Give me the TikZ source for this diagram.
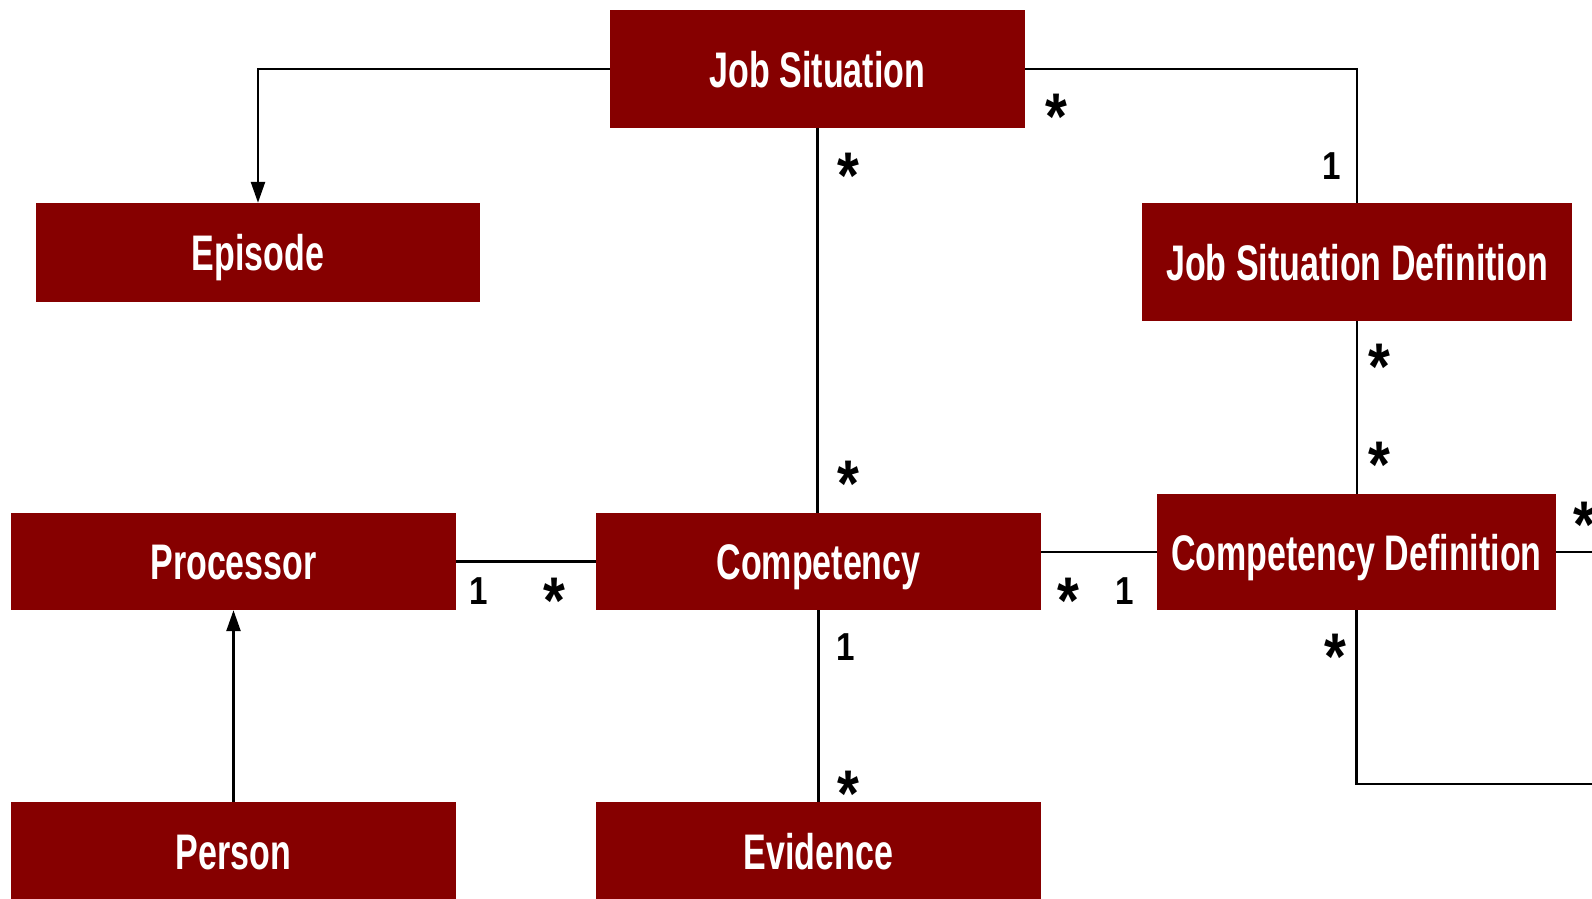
\documentclass[tikz,border=0pt]{standalone}
\usepackage{fontspec}
\setmainfont{Liberation Sans}
\newfontfamily\boxfont[FakeStretch=0.68]{Liberation Sans}
\newfontfamily\multfont[FakeStretch=0.85]{Liberation Sans}
\usetikzlibrary{arrows.meta}
\definecolor{boxred}{RGB}{134,0,0}

\begin{document}
\begin{tikzpicture}[x=1pt,y=-1pt,
        entity/.style={rectangle,fill=boxred,text=white,inner sep=0pt,text height=36pt,text depth=0pt,font=\boxfont\bfseries\fontsize{50}{50}\selectfont},
        link/.style={line width=2.5pt},
        arr/.style={link,-{Triangle[length=21pt,width=14pt]}},
        mult/.style={inner sep=0pt,font=\multfont\bfseries\fontsize{39}{39}\selectfont},
        star/.style={inner sep=0pt,yshift=-10pt,font=\multfont\bfseries\fontsize{66}{66}\selectfont}]
        \useasboundingbox (0,0) rectangle (1592,899);
        \clip (0,0) rectangle (1592,899);
        \node[entity,minimum width=415pt,minimum height=118pt] (js) at (817.5,69) {Job Situation};
        \node[entity,minimum width=444pt,minimum height=99pt] (episode) at (258,252.5) {Episode};
        \node[entity,minimum width=430pt,minimum height=118pt] (jsd) at (1357,262) {Job Situation Definition};
        \node[entity,minimum width=445pt,minimum height=97pt] (proc) at (233.5,561.5) {Processor};
        \node[entity,minimum width=445pt,minimum height=97pt] (comp) at (818.5,561.5) {Competency};
        \node[entity,minimum width=399pt,minimum height=116pt] (cd) at (1356.5,552) {Competency Definition};
        \node[entity,minimum width=445pt,minimum height=98pt] (person) at (233.5,851) {Person};
        \node[entity,minimum width=445pt,minimum height=98pt] (evidence) at (818.5,851) {Evidence};
        \coordinate (loopend) at (1600,552);
        \coordinate (loopbot) at (1600,784);
        \draw[arr] (js.west) -| (episode.north);
        \draw[link] (js.east) -| (jsd.north);
        \draw[link] (js.south) -- (js.south |- comp.north);
        \draw[link] (jsd.south) -- (jsd.south |- cd.north);
        \draw[link] (proc.east |- comp.west) -- (comp.west);
        \draw[link] (cd.west) -- (cd.west -| comp.east);
        \draw[link] (comp.south) -- (evidence.north);
        \draw[arr] (person.north) -- (proc.south);
        \draw[link] (cd.east) -- (loopend);
        \draw[link] (cd.south) |- (loopbot);
        \node[star] (jsright) at (1056,107) {*};
        \node[mult] (jsdtop) at (1332,166) {1};
        \node[star] (jsdown) at (848,166) {*};
        \node[star] (compup) at (848,474) {*};
        \node[star] (jsdbelow) at (1379,357) {*};
        \node[star] (cdabove) at (1379,455) {*};
        \node[mult] (procright) at (479,591) {1};
        \node[star] (compleft) at (554,591) {*};
        \node[star] (compright) at (1068,591) {*};
        \node[mult] (cdleft) at (1125,591) {1};
        \node[mult] (compdown) at (846,647) {1};
        \node[star] (evidup) at (848,784) {*};
        \node[star] (cdbelow) at (1335,647) {*};
        \node[star] (cdright) at (1584,515) {*};
\end{tikzpicture}
\end{document}
